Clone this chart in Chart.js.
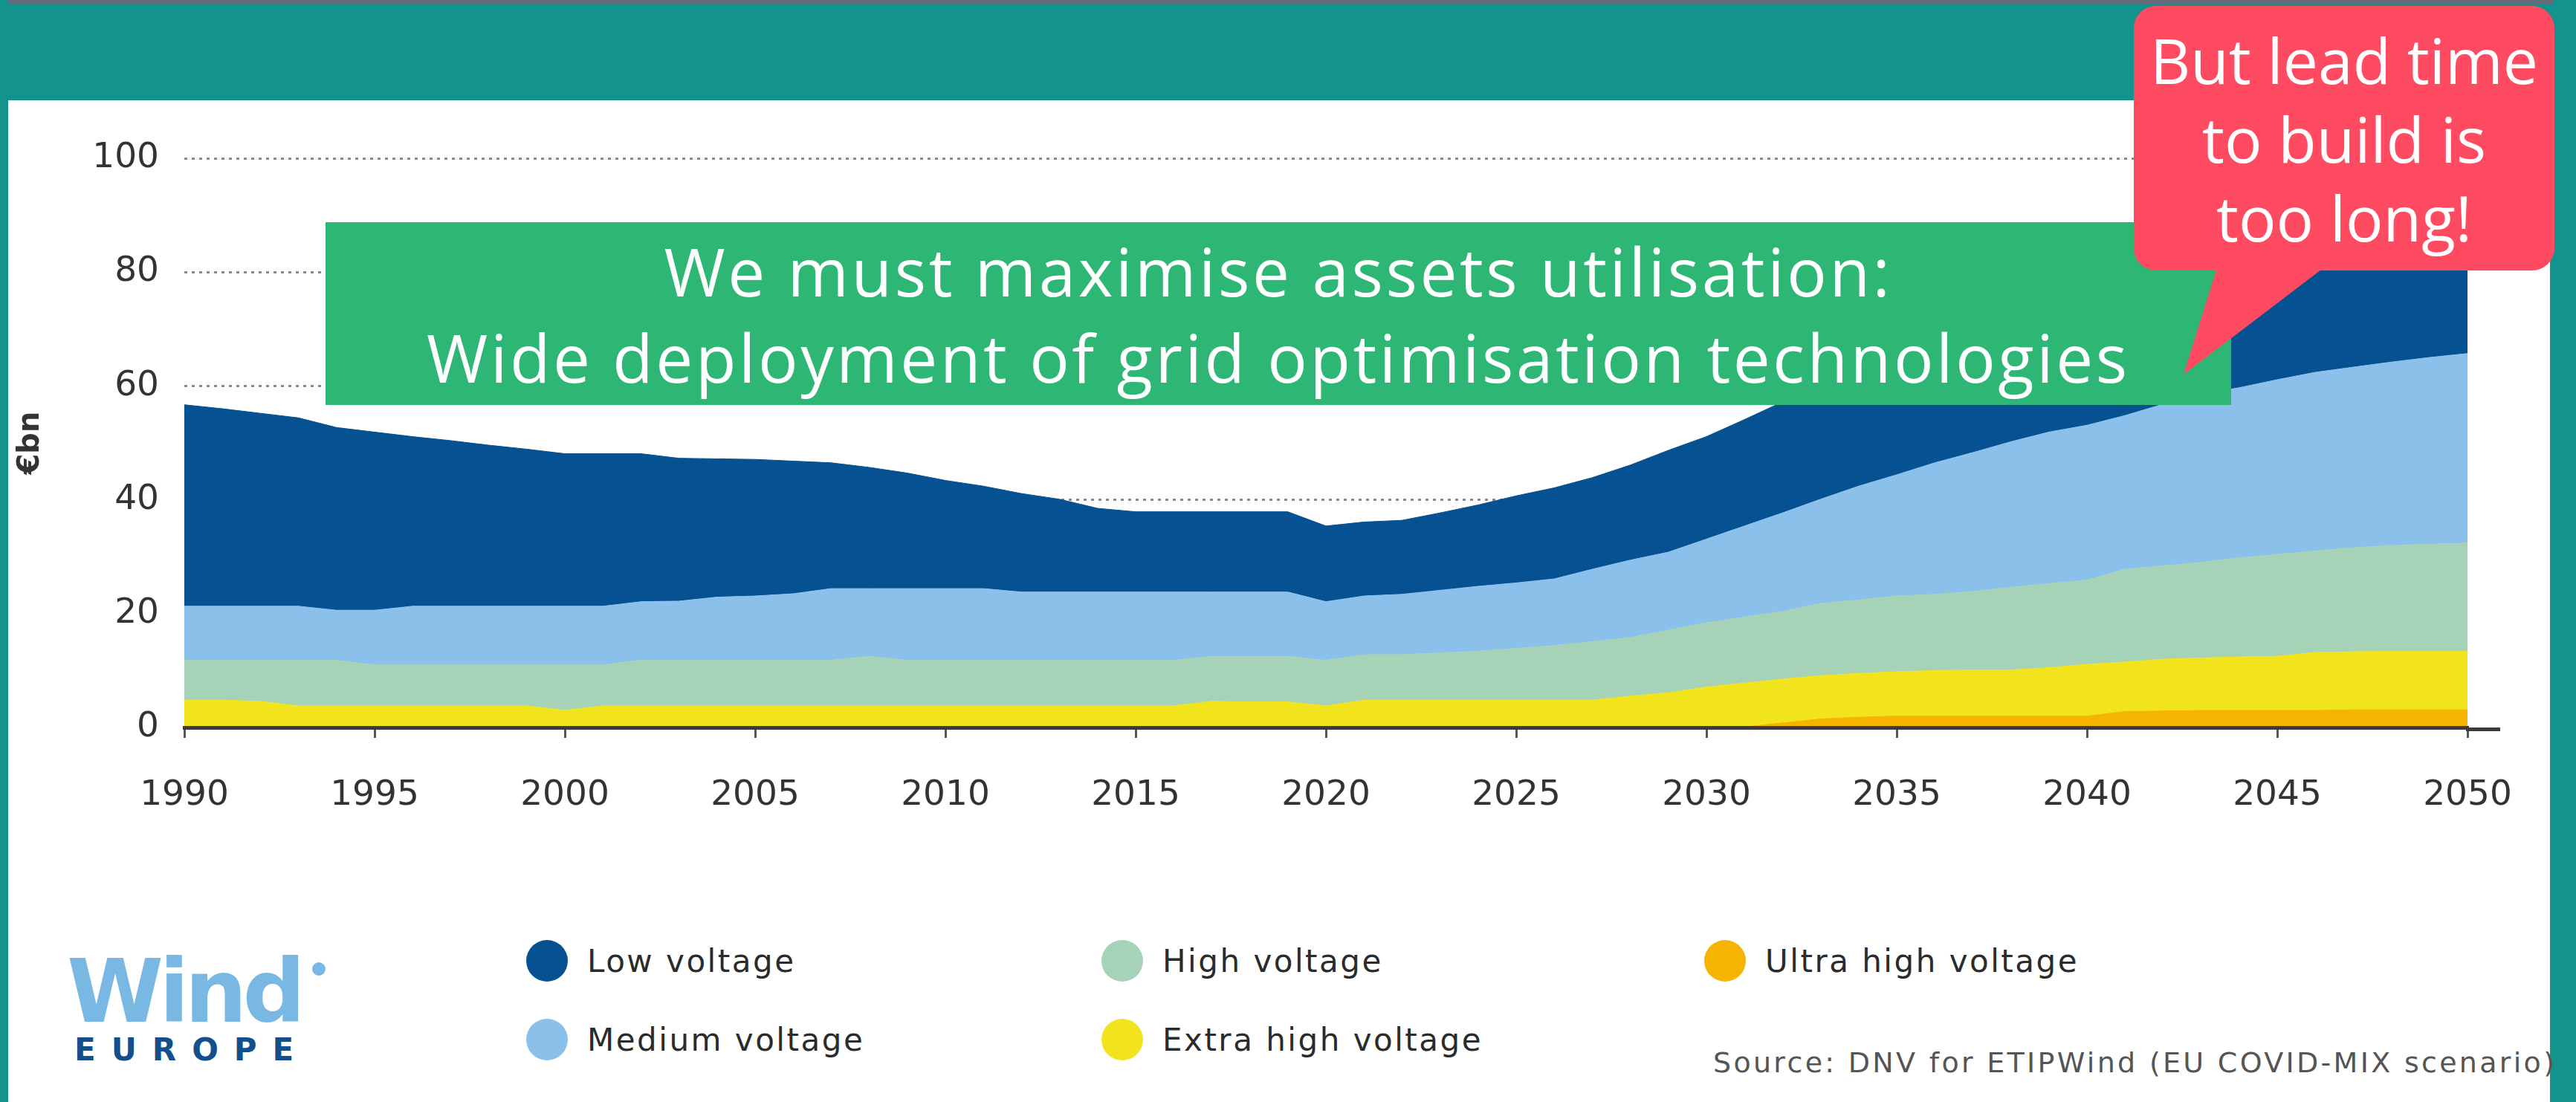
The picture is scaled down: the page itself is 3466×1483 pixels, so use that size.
<!DOCTYPE html>
<html>
<head>
<meta charset="utf-8">
<script src="https://cdn.jsdelivr.net/npm/chart.js"></script>
<style>
    html, body { margin: 0; padding: 0; }
    body { width: 3466px; height: 1483px; background: #12938e; position: relative; overflow: hidden; font-family: "DejaVu Sans", sans-serif; }
    #topbar { position: absolute; left: 11px; top: 0; width: 3424px; height: 5px; background: #646a78; }
    #panel { position: absolute; left: 11px; top: 135px; width: 3420px; height: 1348px; background: #fff; }
    #chartCanvas { position: absolute; left: 0; top: 0; }
    #message { position: absolute; left: 438px; top: 299px; width: 2564px; height: 246px; box-sizing: border-box; padding-top: 8px;
               background: #2db674; color: #fff; font-family: "Open Sans", sans-serif; font-weight: 500; font-size: 89px; letter-spacing: 3.6px;
               line-height: 116px; text-align: center; white-space: nowrap; }
    #bubble { position: absolute; left: 2871px; top: 8px; width: 566px; height: 356px; box-sizing: border-box; padding-top: 20px;
              background: #ff4b62; border-radius: 30px; color: #fff; font-family: "Open Sans", sans-serif; font-weight: 500; font-size: 84px;
              line-height: 106px; text-align: center; }
    #pointer { position: absolute; left: 2930px; top: 360px; width: 200px; height: 146px; background: #ff4b62;
               clip-path: polygon(53px 0, 197px 0, 8px 144px); }
    .legend-item { position: absolute; height: 60px; display: flex; align-items: center; font-size: 42px; letter-spacing: 2.5px; color: #2b2b2b; white-space: nowrap; }
    .legend-item .dot { width: 56px; height: 56px; border-radius: 50%; flex: none; }
    .legend-item .txt { padding-left: 26px; }
    #source { position: absolute; left: 2305px; top: 1408px; font-size: 38px; letter-spacing: 3.3px; color: #555; white-space: nowrap; }
    #logoWind { position: absolute; left: 90px; top: 1275px; font-size: 118px; line-height: 1; font-weight: bold; color: #7ab8e4; letter-spacing: -6px; }
    #logoDot { position: absolute; left: 420px; top: 1295px; width: 18px; height: 18px; border-radius: 50%; background: #7ab8e4; }
    #logoEurope { position: absolute; left: 100px; top: 1392px; font-size: 42px; line-height: 1; font-weight: bold; color: #124f8c; letter-spacing: 21px; }
</style>
</head>
<body>
    <div id="topbar"></div>
    <div id="panel"></div>
    <canvas id="chartCanvas" width="3466" height="1180"></canvas>

    <div id="message">We must maximise assets utilisation:<br>Wide deployment of grid optimisation technologies</div>
    <div id="pointer"></div>
    <div id="bubble">But lead time<br>to build is<br>too long!</div>

    <div id="legend"></div>
    <div id="source">Source: DNV for ETIPWind (EU COVID-MIX scenario)</div>

    <div id="logoWind">Wind</div>
    <div id="logoDot"></div>
    <div id="logoEurope">EUROPE</div>

<script>
    // Grid investment in €bn per year
    const years = [1990, 1991, 1992, 1993, 1994, 1995, 1996, 1997, 1998, 1999,
                   2000, 2001, 2002, 2003, 2004, 2005, 2006, 2007, 2008, 2009,
                   2010, 2011, 2012, 2013, 2014, 2015, 2016, 2017, 2018, 2019,
                   2020, 2021, 2022, 2023, 2024, 2025, 2026, 2027, 2028, 2029,
                   2030, 2031, 2032, 2033, 2034, 2035, 2036, 2037, 2038, 2039,
                   2040, 2041, 2042, 2043, 2044, 2045, 2046, 2047, 2048, 2049, 2050];

    const ultraHigh = [0, 0, 0, 0, 0, 0, 0, 0, 0, 0,
                       0, 0, 0, 0, 0, 0, 0, 0, 0, 0,
                       0, 0, 0, 0, 0, 0, 0, 0, 0, 0,
                       0, 0, 0, 0, 0, 0, 0, 0, 0, 0,
                       0, 0.1, 0.8, 1.5, 1.8, 2.0, 2.0, 2.0, 2.0, 2.0,
                       2.0, 2.8, 2.9, 3.0, 3.0, 3.0, 3.0, 3.1, 3.1, 3.1, 3.1];

    const extraHigh = [4.8, 4.8, 4.6, 3.8, 3.8, 3.8, 3.8, 3.8, 3.8, 3.8,
                       3.0, 3.8, 3.8, 3.8, 3.8, 3.8, 3.8, 3.8, 3.8, 3.8,
                       3.8, 3.8, 3.8, 3.8, 3.8, 3.8, 3.8, 4.6, 4.5, 4.5,
                       3.8, 4.8, 4.8, 4.8, 4.8, 4.8, 4.8, 4.8, 5.5, 6.1,
                       7.1, 7.7, 7.7, 7.6, 7.7, 7.8, 8.0, 8.1, 8.1, 8.5,
                       9.1, 8.7, 9.1, 9.2, 9.4, 9.5, 10.2, 10.2, 10.3, 10.3, 10.3];

    const high = [7.0, 7.0, 7.2, 8.0, 8.0, 7.2, 7.2, 7.2, 7.2, 7.2,
                  8.0, 7.2, 8.0, 8.0, 8.0, 8.0, 8.0, 8.0, 8.7, 8.0,
                  8.0, 8.0, 8.0, 8.0, 8.0, 8.0, 8.0, 7.9, 8.0, 8.0,
                  8.0, 8.0, 8.0, 8.3, 8.6, 9.1, 9.6, 10.3, 10.3, 11.0,
                  11.3, 11.6, 11.9, 12.7, 12.9, 13.3, 13.4, 13.8, 14.5, 14.8,
                  14.8, 16.3, 16.4, 16.8, 17.4, 17.9, 17.8, 18.3, 18.6, 18.8, 19.0];

    const medium = [9.5, 9.5, 9.5, 9.5, 8.8, 9.6, 10.3, 10.3, 10.3, 10.3,
                    10.3, 10.3, 10.3, 10.4, 11.1, 11.3, 11.7, 12.6, 11.9, 12.6,
                    12.6, 12.6, 12.0, 12.0, 12.0, 12.0, 12.0, 11.3, 11.3, 11.3,
                    10.3, 10.3, 10.6, 11.0, 11.4, 11.5, 11.7, 12.7, 13.6, 13.7,
                    14.7, 16.0, 17.3, 18.3, 20.0, 21.3, 23.1, 24.4, 25.6, 26.6,
                    27.2, 27.0, 28.4, 29.5, 29.9, 30.7, 31.4, 31.7, 32.2, 32.8, 33.3];

    const low = [35.4, 34.7, 33.9, 33.1, 32.1, 31.3, 29.8, 29.1, 28.3, 27.6,
                 26.8, 26.8, 26.0, 25.1, 24.3, 24.0, 23.3, 22.1, 21.3, 20.3,
                 19.0, 18.0, 17.3, 16.3, 14.7, 14.1, 14.1, 14.1, 14.1, 14.1,
                 13.3, 13.0, 13.0, 13.6, 14.3, 15.3, 16.0, 16.1, 16.7, 17.9,
                 18.0, 18.7, 19.5, 19.5, 19.4, 19.2, 18.9, 18.9, 18.8, 18.9,
                 19.5, 19.6, 19.4, 19.5, 19.9, 20.1, 20.2, 20.7, 21.0, 21.2, 21.3];

    // stacked bottom to top
    const seriesNames = ['Ultra high voltage', 'Extra high voltage', 'High voltage', 'Medium voltage', 'Low voltage'];
    const xTickYears = [1990, 1995, 2000, 2005, 2010, 2015, 2020, 2025, 2030, 2035, 2040, 2045, 2050];
    const yTickValues = [0, 20, 40, 60, 80, 100];
    const yAxisTitle = '€bn';

    const seriesValues = [ultraHigh, extraHigh, high, medium, low];
    const seriesColors = ['#f6b300', '#f2e41c', '#a6d3b7', '#8bc0eb', '#065192'];

    // legend slots: [series index, circle left, top]
    const legendSlots = [[4, 708, 1263], [3, 708, 1369], [2, 1482, 1263], [1, 1482, 1369], [0, 2293, 1263]];

    function buildLegend() {
        const box = document.getElementById('legend');
        legendSlots.forEach(function (slot) {
            const item = document.createElement('div');
            item.className = 'legend-item';
            item.style.left = slot[1] + 'px';
            item.style.top = slot[2] + 'px';
            const dot = document.createElement('span');
            dot.className = 'dot';
            dot.style.background = seriesColors[slot[0]];
            const txt = document.createElement('span');
            txt.className = 'txt';
            txt.textContent = seriesNames[slot[0]];
            item.appendChild(dot);
            item.appendChild(txt);
            box.appendChild(item);
        });
    }

    // the axis line runs a little past 2050 in the original
    const axisExtension = {
        id: 'axisExtension',
        afterDraw(chart) {
            const ctx = chart.ctx;
            const area = chart.chartArea;
            ctx.save();
            ctx.strokeStyle = '#3b3b3b';
            ctx.lineWidth = 5;
            ctx.beginPath();
            ctx.moveTo(area.right - 2, area.bottom + 2.5);
            ctx.lineTo(area.right + 44, area.bottom + 2.5);
            ctx.stroke();
            ctx.restore();
        }
    };

    function drawChart() {
        const datasets = seriesNames.map(function (name, k) {
            return {
                label: name,
                data: years.map(function (yr, i) { return { x: yr, y: seriesValues[k][i] }; }),
                backgroundColor: seriesColors[k],
                borderColor: seriesColors[k],
                borderWidth: 1,
                pointRadius: 0,
                tension: 0,
                fill: k === 0 ? 'origin' : '-1'
            };
        });

        const config = {
            type: 'line',
            data: { datasets: datasets },
            options: {
                responsive: false,
                animation: false,
                devicePixelRatio: 1,
                layout: { padding: { top: 213, right: 146, left: 0, bottom: 0 } },
                plugins: {
                    legend: { display: false },
                    tooltip: { enabled: false }
                },
                scales: {
                    x: {
                        type: 'linear',
                        min: 1990,
                        max: 2050,
                        afterBuildTicks: function (scale) {
                            scale.ticks = xTickYears.map(function (v) { return { value: v }; });
                        },
                        afterFit: function (scale) { scale.height = 201; },
                        grid: { drawOnChartArea: false, drawTicks: true, tickLength: 14, color: '#555', lineWidth: 3 },
                        border: { display: true, color: '#3b3b3b', width: 5, z: 1 },
                        ticks: {
                            autoSkip: false,
                            maxRotation: 0,
                            padding: 50,
                            color: '#333',
                            font: { family: 'DejaVu Sans', size: 47 },
                            callback: function (v) { return String(v); }
                        }
                    },
                    y: {
                        stacked: true,
                        min: 0,
                        max: 100,
                        afterBuildTicks: function (scale) {
                            scale.ticks = yTickValues.map(function (v) { return { value: v }; });
                        },
                        afterFit: function (scale) { scale.width = 248; },
                        grid: { drawTicks: false, color: '#8a8a8a', lineWidth: 3 },
                        border: { display: false, dash: [4, 6] },
                        title: {
                            display: true,
                            text: yAxisTitle,
                            color: '#333',
                            padding: { top: 18, bottom: 0 },
                            font: { family: 'DejaVu Sans', size: 40, weight: 'bold' }
                        },
                        ticks: {
                            padding: 34,
                            color: '#333',
                            font: { family: 'DejaVu Sans', size: 47 }
                        }
                    }
                }
            },
            plugins: [axisExtension]
        };

        const myChart = new Chart(document.getElementById('chartCanvas'), config);
    }

    buildLegend();
    drawChart();
</script>
</body>
</html>
